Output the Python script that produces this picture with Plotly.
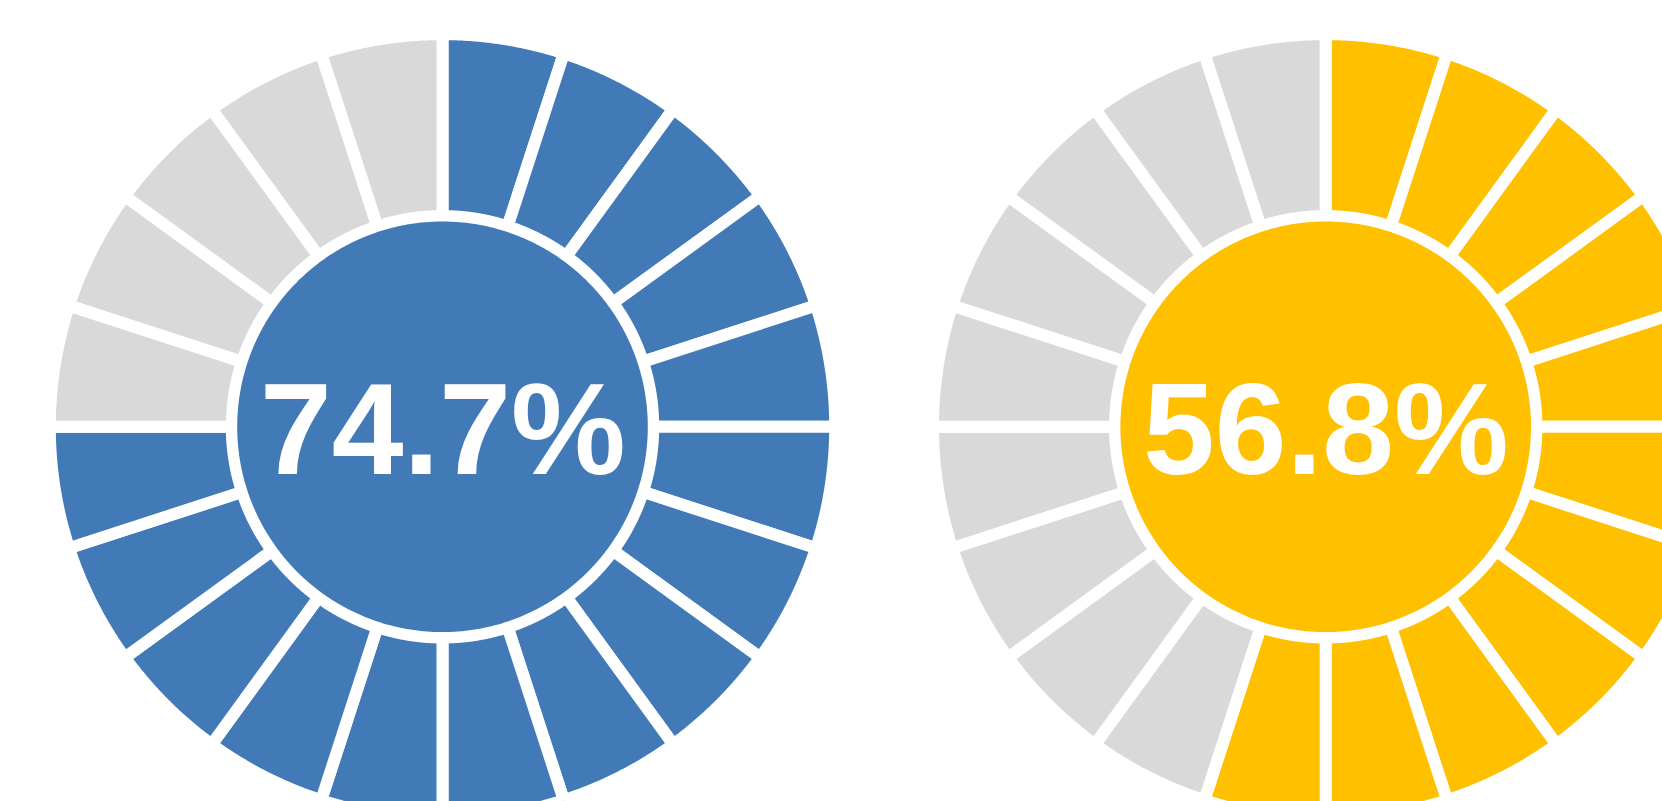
import numpy as np
import plotly.graph_objects as go

# Gauge values (percent) and their colours
labels = ["74.7%", "56.8%"]
values = [74.7, 56.8]
fill_colors = ["#427AB8", "#FFC000"]
empty_color = "#D9D9D9"
segments = 20

# Geometry (in pixel units of the axes)
W, H = 1662, 801
centers_x = [0.0, 883.2]
R_OUT = 386.7
R_IN = 216.7
R_CORE = 205.3
GAP = 12

fig = go.Figure()


def ring_segment(cx, a0, a1, r0, r1, n=80):
    # angles measured clockwise from 12 o'clock
    t = np.linspace(a0, a1, n)
    xo = cx + r1 * np.sin(np.radians(t))
    yo = r1 * np.cos(np.radians(t))
    xi = cx + r0 * np.sin(np.radians(t[::-1]))
    yi = r0 * np.cos(np.radians(t[::-1]))
    x = np.concatenate([xo, xi, xo[:1]])
    y = np.concatenate([yo, yi, yo[:1]])
    return x, y


step = 360 / segments
for cx, val, col, lab in zip(centers_x, values, fill_colors, labels):
    n_filled = int(round(val / 100 * segments))
    for i in range(segments):
        x, y = ring_segment(cx, i * step, (i + 1) * step,
                            R_IN - GAP / 2, R_OUT + GAP / 2)
        fig.add_trace(go.Scatter(
            x=x, y=y, mode="lines", fill="toself",
            fillcolor=col if i < n_filled else empty_color,
            line=dict(color="white", width=GAP, simplify=False),
            hoverinfo="skip", showlegend=False))
    t = np.linspace(0, 360, 721)
    fig.add_trace(go.Scatter(
        x=cx + R_CORE * np.sin(np.radians(t)),
        y=R_CORE * np.cos(np.radians(t)),
        mode="lines", fill="toself", fillcolor=col,
        line=dict(color=col, width=0, simplify=False),
        hoverinfo="skip", showlegend=False))
    fig.add_annotation(
        x=cx, y=0, yshift=-2, text="<b>" + lab + "</b>", showarrow=False,
        xanchor="center", yanchor="middle",
        font=dict(family="Liberation Sans", size=129, color="white"))

fig.update_xaxes(range=[-442.5, W - 442.5], visible=False, fixedrange=True)
fig.update_yaxes(range=[-(H - 426.8), 426.8], visible=False, fixedrange=True)
fig.update_layout(
    width=W, height=H,
    margin=dict(l=0, r=0, t=0, b=0),
    paper_bgcolor="white", plot_bgcolor="white",
)

fig.write_html("out.html", config={"displayModeBar": False})
